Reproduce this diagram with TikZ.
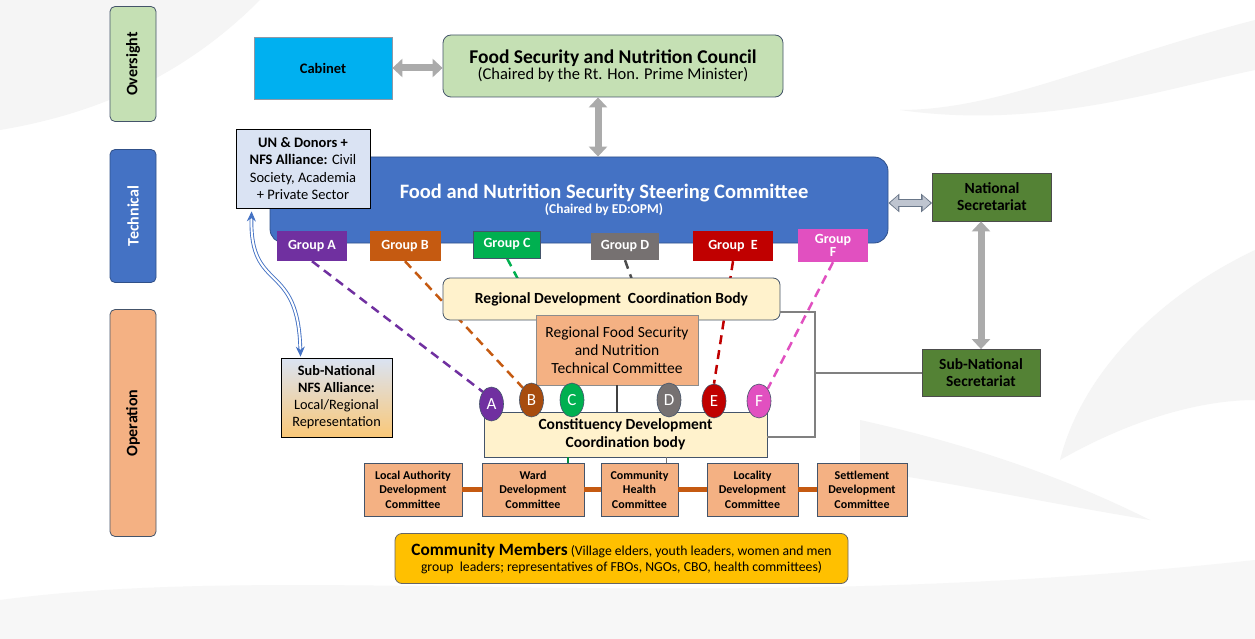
\documentclass[tikz,border=0pt]{standalone}
\usepackage{fontspec}
\setmainfont{Carlito}
\usetikzlibrary{arrows.meta,shapes.geometric}

\definecolor{lanegreen}{HTML}{C5E0B4}
\definecolor{laneblue}{HTML}{4472C4}
\definecolor{laneorange}{HTML}{F4B183}
\definecolor{edgeslate}{HTML}{44546A}
\definecolor{cabinetblue}{HTML}{00B0F0}
\definecolor{cream}{HTML}{FFF2CC}
\definecolor{paleblue}{HTML}{DAE3F3}
\definecolor{secgreen}{HTML}{548235}
\definecolor{cmgold}{HTML}{FFC000}
\definecolor{grpA}{HTML}{7030A0}
\definecolor{grpB}{HTML}{C55A11}
\definecolor{grpC}{HTML}{00B050}
\definecolor{grpD}{HTML}{767171}
\definecolor{grpE}{HTML}{C00000}
\definecolor{grpF}{HTML}{E150C0}

\pgfdeclarelayer{bg}
\pgfdeclarelayer{links}
\pgfsetlayers{bg,links,main}

\newcommand\fsz[2]{\fontsize{#1}{#2}\selectfont}

\tikzset{
  >=latex,
  lane/.style={draw=edgeslate, line width=0.8pt, rounded corners=5pt, rotate=90,
    minimum height=46pt, font=\fsz{16}{18}\bfseries},
  orgbox/.style={draw=edgeslate, line width=0.8pt, align=center, inner sep=2pt},
  grp/.style={text=white, align=center, font=\fsz{14}{13}\bfseries,
    minimum height=30pt, inner sep=1pt},
  letter/.style={ellipse, draw=edgeslate, line width=0.6pt, minimum width=24pt,
    minimum height=34pt, inner sep=0pt, text=white, font=\fsz{17}{17}},
  committee/.style={orgbox, fill=laneorange, minimum height=53pt,
    font=\fsz{12}{14.5}\bfseries},
  grouplink/.style={line width=2.5pt, dash pattern=on 9pt off 6pt},
  block arrow/.style={line width=7pt, draw=black!33,
    {Triangle[width=18pt,length=10pt]}-{Triangle[width=18pt,length=10pt]}},
  bracket/.style={line width=2.5pt, draw=black!50},
  linkline/.style={line width=5pt, draw=grpB},
  uplink/.style={draw=laneblue, double=white, double distance=2pt, line width=0.9pt,
    {Stealth[length=10pt,width=9pt]}-{Stealth[length=10pt,width=9pt]}}
}

\begin{document}
\begin{tikzpicture}[x=1pt,y=-1pt]
  %% canvas, one unit per pixel
  \useasboundingbox (0,0) rectangle (1255,639);
  \begin{pgfonlayer}{bg}
    \fill[white] (0,0) rectangle (1255,639);
    \fill[black!4] (0,0) -- (260,0) .. controls (200,60) and (120,110) .. (0,130) -- cycle;
    \fill[black!4] (1255,20) .. controls (1100,60) and (1000,110) .. (900,110)
      .. controls (1040,130) and (1160,90) .. (1255,70) -- cycle;
    \fill[black!4] (1255,250) .. controls (1150,300) and (1080,380) .. (1060,460)
      .. controls (1130,420) and (1200,400) .. (1255,400) -- cycle;
    \fill[black!3] (0,600) .. controls (300,560) and (700,620) .. (1255,560)
      -- (1255,639) -- (0,639) -- cycle;
    \fill[black!4] (860,420) .. controls (950,440) and (1050,470) .. (1150,520)
      .. controls (1030,500) and (940,480) .. (860,470) -- cycle;
  \end{pgfonlayer}

  %% the three lanes
  \node[lane, fill=lanegreen, minimum width=115pt] (oversight) at (133,64) {Oversight};
  \node[lane, fill=laneblue, draw=laneblue!70!black, text=white, minimum width=133pt]
    (technical) at (133,216) {Technical};
  \node[lane, fill=laneorange, minimum width=227pt] (operation) at (133,423) {Operation};

  %% oversight level
  \node[orgbox, fill=cabinetblue, draw=edgeslate!60, minimum width=138pt, minimum height=62pt,
    font=\fsz{14.5}{16}\bfseries] (cabinet) at (323,68) {Cabinet};
  \node[orgbox, fill=lanegreen, rounded corners=8pt, minimum width=340pt, minimum height=62pt]
    (council) at (613,66) {\fsz{19.5}{22}\bfseries Food Security and Nutrition Council\\
    \fsz{16.5}{19}(Chaired by the Rt. Hon. Prime Minister)};

  %% technical level
  \node[orgbox, fill=laneblue, draw=laneblue!70!black, rounded corners=14pt,
    minimum width=618pt, minimum height=86pt] (steering) at (579,200) {};
  \node[text=white, align=center] (steertitle) at (604,200)
    {\fsz{20.5}{23}\bfseries Food and Nutrition Security Steering Committee\\
    \fsz{13.5}{15}\bfseries (Chaired by ED:OPM)};
  \node[orgbox, fill=paleblue, draw=black, minimum width=134pt, minimum height=79pt,
    font=\fsz{14.5}{17.5}] (donors) at (303,168.5)
    {\textbf{UN \& Donors +}\\ \textbf{NFS Alliance:} Civil\\ Society, Academia\\ + Private Sector};

  \node[grp, fill=grpA, minimum width=70pt] (ga) at (312,246) {Group A};
  \node[grp, fill=grpB, minimum width=71pt] (gb) at (405,246) {Group B};
  \node[grp, fill=grpC, draw=edgeslate, minimum width=67pt, minimum height=27pt] (gc) at (507,244.5) {Group C};
  \node[grp, fill=grpD, minimum width=68pt, minimum height=27pt] (gd) at (625,246.5) {Group D};
  \node[grp, fill=grpE, minimum width=80pt] (ge) at (733,246) {Group\ \ E};
  \node[grp, fill=grpF, minimum width=70pt, minimum height=33pt] (gf) at (833,245.5) {Group\\F};

  \node[orgbox, fill=secgreen, draw=black!70, minimum width=119pt, minimum height=48pt,
    font=\fsz{15.5}{17}\bfseries] (natsec) at (992,197) {National\\ Secretariat};

  %% operation level
  \node[orgbox, fill=cream, rounded corners=7pt, minimum width=337pt, minimum height=42pt,
    font=\fsz{15.5}{17}\bfseries] (regional) at (611.5,299) {Regional Development\ \ Coordination Body};
  \node[orgbox, fill=laneorange, draw=black!45, minimum width=162pt, minimum height=70pt,
    font=\fsz{15.5}{18}] (rfs) at (617,350) {Regional Food Security\\ and Nutrition\\ Technical Committee};
  \node[orgbox, fill=cream, minimum width=283pt, minimum height=45pt,
    font=\fsz{15.5}{18}\bfseries] (constituency) at (625.5,434.5)
    {Constituency Development\\ Coordination body};

  \node[letter, fill=grpA] (la) at (491.5,404) {A};
  \node[letter, fill=grpB!85!black] (lb) at (531.5,400) {B};
  \node[letter, fill=grpC] (lc) at (572,400) {C};
  \node[letter, fill=grpD] (ld) at (669,400) {D};
  \node[letter, fill=grpE] (le) at (714,401) {E};
  \node[letter, fill=grpF] (lf) at (759,401) {F};

  \node[orgbox, draw=black, top color=paleblue, bottom color={rgb,255:red,250;green,200;blue,120},
    minimum width=111pt, minimum height=79pt, font=\fsz{14.3}{17}] (subnfs) at (336.5,397.5)
    {\textbf{Sub-National}\\ \textbf{NFS Alliance:}\\ Local/Regional\\ Representation};
  \node[orgbox, fill=secgreen, draw=black!70, minimum width=118pt, minimum height=47pt,
    font=\fsz{15.5}{17}\bfseries] (subsec) at (981,373) {Sub-National\\ Secretariat};

  \node[committee, minimum width=98pt] (lac) at (413,489.5) {Local Authority\\ Development\\ Committee};
  \node[committee, minimum width=102pt] (ward) at (533,489.5) {Ward\\ Development\\ Committee};
  \node[committee, minimum width=77pt] (chc) at (639.5,489.5) {Community\\ Health\\ Committee};
  \node[committee, minimum width=91pt] (ldc) at (752.5,489.5) {Locality\\ Development\\ Committee};
  \node[committee, minimum width=90pt] (sdc) at (862,489.5) {Settlement\\ Development\\ Committee};

  \node[orgbox, fill=cmgold, draw=black!60, rounded corners=7pt, minimum width=453pt,
    minimum height=50pt, font=\fsz{13.7}{16}] (members) at (621.5,558.5)
    {{\fsz{17.3}{16}\bfseries Community Members} (Village elders, youth leaders, women and men\\
    group\ \ leaders; representatives of FBOs, NGOs, CBO, health committees)};

  %% dashed links from the groups, kept under the boxes
  \begin{pgfonlayer}{links}
    \draw[grouplink, grpA] (ga.south) -- (la.north west);
    \draw[grouplink, grpB] (gb.south) -- (lb.north west);
    \draw[grouplink, grpC] (gc.south) -- (lc.north);
    \draw[grouplink, black!70] (gd.south) -- (ld.north);
    \draw[grouplink, grpE] (ge.south) -- (le.north);
    \draw[grouplink, grpF] (gf.south) -- (lf.north east);
  \end{pgfonlayer}

  %% block arrows
  \draw[block arrow] (cabinet.east) -- (cabinet.east -| council.west);
  \draw[block arrow] ([xshift=-15pt]council.south) -- ([xshift=-15pt]council.south |- steering.north);
  \draw[block arrow] (subsec.north |- natsec.south) -- (subsec.north);
  \coordinate (natlevel) at (910,203);
  \draw[line width=8.5pt, draw=edgeslate!80,
    {Triangle[width=18pt,length=11pt]}-{Triangle[width=18pt,length=11pt]}]
    (natlevel -| steering.east) -- (natlevel -| natsec.west);
  \draw[line width=5.5pt, draw=paleblue!70!gray, shorten <=1.6pt, shorten >=1.6pt,
    {Triangle[width=14pt,length=8pt]}-{Triangle[width=14pt,length=8pt]}]
    (natlevel -| steering.east) -- (natlevel -| natsec.west);

  %% alliance link
  \draw[uplink] ([xshift=16pt,yshift=-3pt]donors.south west)
    .. controls +(-2,83) and +(-2,-97) .. ([xshift=-36pt,yshift=1pt]subnfs.north);

  %% bracket to the sub-national secretariat
  \coordinate (bracktop) at (815,312);
  \coordinate (brackbot) at (815,437);
  \draw[bracket] (bracktop -| regional.east) -- (bracktop) -- (brackbot) -- (brackbot -| constituency.east);
  \draw[bracket] (subsec.west) -- (subsec.west -| bracktop);

  %% regional committee to constituency body
  \draw[line width=1.5pt, black!75] (rfs.south) -- (rfs.south |- constituency.north);

  %% constituency body to committees
  \draw[line width=1.2pt, grpC!80!black] ([xshift=35pt]ward.north) -- ([xshift=35pt]ward.north |- constituency.south);
  \draw[line width=1.2pt, black!55] ([xshift=27pt]chc.north) -- ([xshift=27pt]chc.north |- constituency.south);
  \draw[linkline] (lac) -- (ward);
  \draw[linkline] (ward) -- (chc);
  \draw[linkline] (chc) -- (ldc);
  \draw[linkline] (ldc) -- (sdc);
\end{tikzpicture}
\end{document}
